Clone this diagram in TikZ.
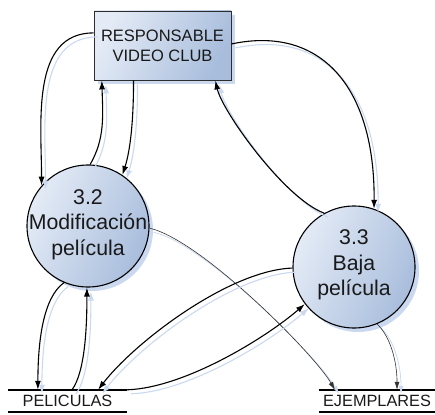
\documentclass[tikz,border=0pt]{standalone}
\usepackage{fontspec}
\setmainfont{Liberation Sans}
\usetikzlibrary{arrows.meta,calc,shadows}

\definecolor{shadowblue}{RGB}{202,216,240}
\definecolor{filllight}{RGB}{228,235,246}
\definecolor{filldark}{RGB}{168,189,220}
\definecolor{edgegray}{RGB}{45,45,45}
\definecolor{inkgray}{RGB}{25,25,25}

\begin{document}
\begin{tikzpicture}[x=1pt,y=1pt,
  bluefill/.style={top color=filllight, bottom color=filldark, shading angle=65},
  softshadow/.style={drop shadow={shadow xshift=4pt, shadow yshift=-4pt, fill=shadowblue, opacity=1}},
  entity/.style={rectangle, draw=edgegray, line width=0.9pt, bluefill, softshadow,
    minimum width=137pt, minimum height=69pt, inner sep=0pt},
  proc/.style={circle, draw=black, line width=1.1pt, bluefill, softshadow,
    minimum size=122pt, inner sep=0pt},
  proctext/.style={align=center, text=inkgray, inner sep=0pt,
    font=\fontsize{21.3}{25.5}\selectfont},
  boxtext/.style={align=center, text=inkgray, inner sep=0pt,
    font=\fontsize{16.5}{20}\selectfont},
  store/.style={rectangle, inner sep=0pt, minimum height=22pt, text=inkgray,
    font=\fontsize{16.3}{20}\selectfont},
  storeline/.style={line width=1.5pt, draw=black},
  flowshadow/.style={preaction={draw=shadowblue, line width=#1,
    transform canvas={shift={(4pt,-4pt)}}}},
  flow/.style={draw=black, line width=1.1pt, -{Latex[length=9pt,width=6pt]}, flowshadow=1.1pt},
  thinflow/.style={draw=black!80, line width=0.6pt, -{Latex[length=8pt,width=5pt]}, flowshadow=0.8pt}
]
\useasboundingbox (0,0) rectangle (435,-414);

% external entity
\node[entity] (box) at (162.5,-45.5) {};
\node[boxtext] (boxlabel) at (box) {RESPONSABLE\\VIDEO CLUB};

% processes
\node[proc] (c32) at (88,-226) {};
\node[proctext] (t32) at (88,-224.5) {3.2\\Modificación\\película};
\node[proc] (c33) at (354,-267) {};
\node[proctext] (t33) at (354,-265) {3.3\\Baja\\película};

% data stores
\node[store, minimum width=119pt] (pel) at (67.5,-401) {PELICULAS};
\draw[storeline] (pel.north west) -- (pel.north east);
\draw[storeline] (pel.south west) -- (pel.south east);
\node[store, minimum width=116pt] (ejm) at (377,-401) {EJEMPLARES};
\draw[storeline] (ejm.north west) -- (ejm.north east);
\draw[storeline] (ejm.south west) -- (ejm.south east);

% attachment points on the entity and the stores
\coordinate (b1) at ($(box.north west)!0.32!(box.south west)$);
\coordinate (b2) at ($(box.south west)!0.06!(box.south east)$);
\coordinate (b3) at ($(box.south west)!0.29!(box.south east)$);
\coordinate (b4) at ($(box.south west)!0.883!(box.south east)$);
\coordinate (b5) at ($(box.north east)!0.478!(box.south east)$);
\coordinate (p1) at ($(pel.north west)!0.252!(pel.north east)$);
\coordinate (p2) at ($(pel.north west)!0.538!(pel.north east)$);
\coordinate (p3) at ($(pel.north west)!0.756!(pel.north east)$);
\coordinate (e1) at ($(ejm.north west)!0.138!(ejm.north east)$);
\coordinate (e2) at ($(ejm.north west)!0.672!(ejm.north east)$);

% data flows
\draw[flow] (b1) .. controls +(-63,0) and +(0,63) .. (c32.139);
\draw[flow] (c32.88) .. controls +(15,26) and +(1,-35) .. (b2);
\draw[flow] (b3) .. controls +(0,-40) and +(8,25) .. (c32.56);
\draw[flow] (c33.119) .. controls +(-40,15) and +(7,-31) .. (b4);
\draw[flow] (b5) .. controls +(89,19) and +(1,122) .. (c33.71);
\draw[thinflow] (c32.-2) .. controls +(52,-12) and +(-20,35) .. (e1);
\draw[flow] (c32.247) .. controls +(-21,-15) and +(0,48) .. (p1);
\draw[flow] (p2) .. controls +(13,18) and +(0,-40) .. (c32.269);
\draw[flow] (c33.181) .. controls +(-63,-2) and +(37,48) .. (p3);
\draw[flow] (pel.north east) .. controls +(58,2) and +(-38,-33) .. (c33.217);
\draw[thinflow] (c33.292) .. controls +(13,-12) and +(0,29) .. (e2);
\end{tikzpicture}
\end{document}
